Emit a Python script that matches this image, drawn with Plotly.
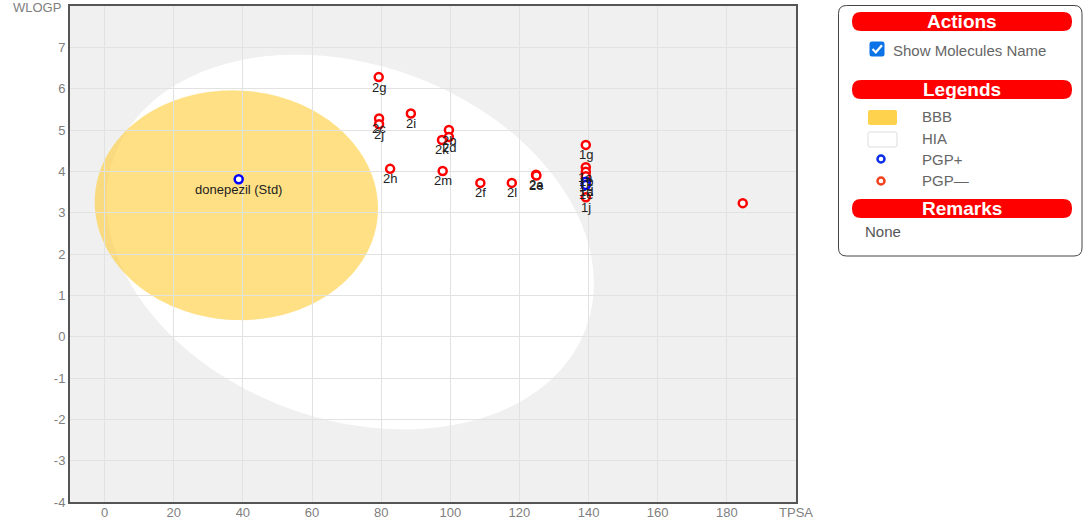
import numpy as np
import plotly.graph_objects as go

# ---- canvas / axes -------------------------------------------------------
W, H = 1083, 521
ML, MR, MT, MB = 70, 287, 6, 19
X_RANGE = [-10, 200]
Y_RANGE = [-4, 8]
X_TICKS = [0, 20, 40, 60, 80, 100, 120, 140, 160, 180, 200]
X_TICKTEXT = ["0", "20", "40", "60", "80", "100", "120", "140", "160", "180", "TPSA"]
Y_TICKS = [-4, -3, -2, -1, 0, 1, 2, 3, 4, 5, 6, 7]
Y_TICKTEXT = ["-4", "-3", "-2", "-1", "0", "1", "2", "3", "4", "5", "6", "7"]
Y_TITLE = "WLOGP"

# ---- molecules -----------------------------------------------------------
pgp_pos_names = ["donepezil (Std)", "1d", "1e"]
pgp_pos_tpsa = [38.8, 139.2, 139.2]
pgp_pos_wlogp = [3.81, 3.75, 3.67]

pgp_neg_names = ["2g", "2c", "2j", "2i", "2b", "2d", "2k", "2h", "2m", "2f", "2l",
                 "2a", "2e", "1g", "1a", "1b", "1c", "1j", ""]
pgp_neg_tpsa = [79.3, 79.4, 79.4, 88.6, 99.6, 99.6, 97.6, 82.6, 97.8, 108.7, 117.8,
                124.8, 124.9, 139.2, 139.2, 139.2, 139.2, 139.2, 184.6]
pgp_neg_wlogp = [6.28, 5.28, 5.14, 5.40, 5.00, 4.83, 4.76, 4.06, 4.01, 3.72, 3.72,
                 3.92, 3.90, 4.64, 4.10, 3.99, 3.88, 3.37, 3.23]

# ---- egg regions (centre in TPSA/WLOGP, semi-axes in TPSA-equivalent units) --
HIA_CENTER = (71.05, 2.29)
HIA_AXES = (72.6, 51.3)
HIA_TILT_DEG = -19.85
BBB_CENTER = (38.12, 3.18)
BBB_AXES = (41.0, 33.2)
BBB_TILT_DEG = -3.8

PLOT_W = W - ML - MR
PLOT_H = H - MT - MB
PX_PER_X = PLOT_W / (X_RANGE[1] - X_RANGE[0])
PX_PER_Y = PLOT_H / (Y_RANGE[1] - Y_RANGE[0])
ASPECT = PX_PER_Y / PX_PER_X  # TPSA units per WLOGP unit on screen


def ellipse_path(center, axes, tilt_deg, n=180):
    t = np.linspace(0, 2 * np.pi, n)
    th = np.deg2rad(tilt_deg)
    u = axes[0] * np.cos(t)
    v = axes[1] * np.sin(t)
    du = u * np.cos(th) - v * np.sin(th)
    dv = u * np.sin(th) + v * np.cos(th)
    xs = center[0] + du
    ys = center[1] + dv / ASPECT
    pts = [f"{x:.4f},{y:.4f}" for x, y in zip(xs, ys)]
    return "M " + " L ".join(pts) + " Z"


def px(x):
    return (x - ML) / PLOT_W


def py(y):
    return 1 - (y - MT) / PLOT_H


def rounded_rect(x0, y0, x1, y1, r):
    pts = [
        f"M {px(x0 + r)},{py(y0)}",
        f"L {px(x1 - r)},{py(y0)}",
        f"Q {px(x1)},{py(y0)} {px(x1)},{py(y0 + r)}",
        f"L {px(x1)},{py(y1 - r)}",
        f"Q {px(x1)},{py(y1)} {px(x1 - r)},{py(y1)}",
        f"L {px(x0 + r)},{py(y1)}",
        f"Q {px(x0)},{py(y1)} {px(x0)},{py(y1 - r)}",
        f"L {px(x0)},{py(y0 + r)}",
        f"Q {px(x0)},{py(y0)} {px(x0 + r)},{py(y0)}",
        "Z",
    ]
    return " ".join(pts)


FONT = "Arial, Liberation Sans, sans-serif"

fig = go.Figure()

fig.add_trace(go.Scatter(
    x=pgp_neg_tpsa, y=pgp_neg_wlogp, mode="markers",
    marker=dict(symbol="circle", size=8, color="white",
                line=dict(color="#ff0000", width=2.5)),
    showlegend=False, cliponaxis=False, hoverinfo="skip",
))
fig.add_trace(go.Scatter(
    x=pgp_pos_tpsa, y=pgp_pos_wlogp, mode="markers",
    marker=dict(symbol="circle", size=8, color="white",
                line=dict(color="#0000ff", width=2.5)),
    showlegend=False, cliponaxis=False, hoverinfo="skip",
))

annotations = []
# molecule names just under each marker
for names, xs, ys in [(pgp_neg_names, pgp_neg_tpsa, pgp_neg_wlogp),
                      (pgp_pos_names, pgp_pos_tpsa, pgp_pos_wlogp)]:
    for name, x, y in zip(names, xs, ys):
        if not name:
            continue
        annotations.append(dict(text=name, x=x, y=y, xref="x", yref="y",
                                showarrow=False, xanchor="center", yanchor="middle",
                                yshift=-10,
                                font=dict(family=FONT, size=13, color="#222222")))

# y-axis name sits where the top tick label would be
annotations.append(dict(text=Y_TITLE, x=px(63), y=Y_RANGE[1], xref="paper", yref="y",
                        showarrow=False, xanchor="right", yanchor="middle", yshift=-1,
                        font=dict(family=FONT, size=13, color="#808080")))

shapes = [
    dict(type="path", path=ellipse_path(HIA_CENTER, HIA_AXES, HIA_TILT_DEG),
         xref="x", yref="y", fillcolor="white", line=dict(width=0), layer="below"),
    dict(type="path", path=ellipse_path(BBB_CENTER, BBB_AXES, BBB_TILT_DEG),
         xref="x", yref="y", fillcolor="rgba(255,204,51,0.6)", line=dict(width=0),
         layer="below"),
]

# side panel
RED = "#ff0000"
shapes.append(dict(type="path", path=rounded_rect(838.5, 5.5, 1082, 256, 8),
                   xref="paper", yref="paper", fillcolor="white",
                   line=dict(color="#444444", width=1)))
for y0, y1 in [(12, 31), (80, 99), (199, 218)]:
    shapes.append(dict(type="path", path=rounded_rect(852, y0, 1072, y1, 9),
                       xref="paper", yref="paper", fillcolor=RED,
                       line=dict(width=0)))
# checkbox
shapes.append(dict(type="path", path=rounded_rect(869.5, 41.5, 884.5, 56.5, 2.5),
                   xref="paper", yref="paper", fillcolor="#0b72e7",
                   line=dict(width=0)))
shapes.append(dict(type="path",
                   path=f"M {px(872.5)},{py(49)} L {px(875.8)},{py(52.3)} L {px(882)},{py(45.2)}",
                   xref="paper", yref="paper",
                   line=dict(color="white", width=2.2)))
# legend swatches
shapes.append(dict(type="path", path=rounded_rect(868, 110, 897, 125, 2),
                   xref="paper", yref="paper", fillcolor="#ffd24d",
                   line=dict(width=0)))
shapes.append(dict(type="path", path=rounded_rect(868, 132, 897, 147, 2),
                   xref="paper", yref="paper", fillcolor="white",
                   line=dict(color="#dddddd", width=1)))
for cy, col in [(159, "#0a2ee8"), (181, "#f0401c")]:
    shapes.append(dict(type="circle", xref="paper", yref="paper",
                       x0=px(877.5), x1=px(884.5), y0=py(cy + 3.5), y1=py(cy - 3.5),
                       fillcolor="white", line=dict(color=col, width=2.5)))

for txt, cy in [("Actions", 21.5), ("Legends", 89.5), ("Remarks", 208.5)]:
    annotations.append(dict(text=f"<b>{txt}</b>", x=px(962), y=py(cy),
                            xref="paper", yref="paper", showarrow=False,
                            xanchor="center", yanchor="middle",
                            font=dict(family=FONT, size=19, color="white")))
annotations.append(dict(text="Show Molecules Name", x=px(891), y=py(50),
                        xref="paper", yref="paper", showarrow=False,
                        xanchor="left", yanchor="middle",
                        font=dict(family=FONT, size=15, color="#666666")))
for txt, cy in [("BBB", 117), ("HIA", 139), ("PGP+", 159), ("PGP\u2014", 181)]:
    annotations.append(dict(text=txt, x=px(920), y=py(cy),
                            xref="paper", yref="paper", showarrow=False,
                            xanchor="left", yanchor="middle",
                            font=dict(family=FONT, size=15, color="#666666")))
annotations.append(dict(text="None", x=px(863), y=py(232),
                        xref="paper", yref="paper", showarrow=False,
                        xanchor="left", yanchor="middle",
                        font=dict(family=FONT, size=15, color="#555555")))

axis_common = dict(showgrid=True, gridcolor="#e2e2e2", gridwidth=1,
                   zeroline=False, showline=True, linecolor="#555555", linewidth=2,
                   mirror=True, ticks="", ticklen=0,
                   tickfont=dict(size=13, color="#808080"),
                   fixedrange=True, automargin=False)

fig.update_layout(
    width=W, height=H, autosize=False,
    margin=dict(l=ML, r=MR, t=MT, b=MB, pad=0, autoexpand=False),
    paper_bgcolor="white", plot_bgcolor="#f0f0f0",
    shapes=shapes, annotations=annotations,
    font=dict(family=FONT),
    xaxis=dict(range=X_RANGE, tickvals=X_TICKS, ticktext=X_TICKTEXT,
               ticklabelstandoff=-3, **axis_common),
    yaxis=dict(range=Y_RANGE, tickvals=Y_TICKS, ticktext=Y_TICKTEXT, **axis_common),
)

fig.write_html("out.html")
